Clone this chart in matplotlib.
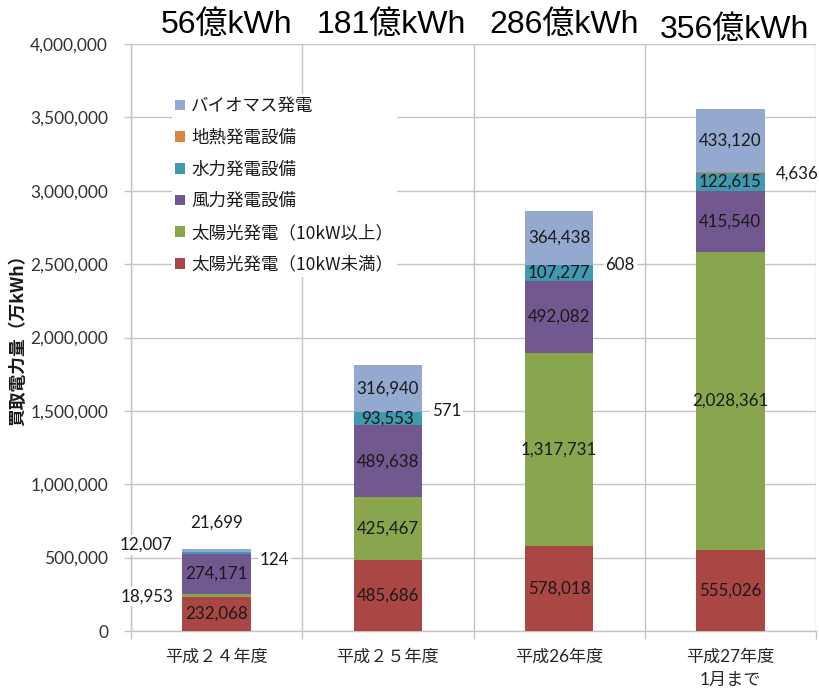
import matplotlib
matplotlib.use("Agg")
import matplotlib.pyplot as plt
import numpy as np
from matplotlib.ticker import FuncFormatter, FixedLocator

plt.rcParams['font.family'] = ['Lato', 'Noto Sans CJK JP', 'DejaVu Sans']

categories = ["平成２４年度", "平成２５年度", "平成26年度", "平成27年度\n1月まで"]
totals_text = ["56億kWh", "181億kWh", "286億kWh", "356億kWh"]
series_names = ["太陽光発電（10kW未満）", "太陽光発電（10kW以上）", "風力発電設備",
                "水力発電設備", "地熱発電設備", "バイオマス発電"]
solar_small = [232068, 485686, 578018, 555026]
solar_large = [18953, 425467, 1317731, 2028361]
wind = [274171, 489638, 492082, 415540]
hydro = [12007, 93553, 107277, 122615]
geothermal = [124, 571, 608, 4636]
biomass = [21699, 316940, 364438, 433120]
series_values = [solar_small, solar_large, wind, hydro, geothermal, biomass]
colors = ["#AA4643", "#89A54E", "#71588F", "#4198AF", "#DB843D", "#93A9CF"]

# labels drawn outside the bar: (series index, category index) -> pixel offsets
outside = {
    (1, 0): (-70, -1),
    (3, 0): (-71, 8),
    (4, 0): (58, -8),
    (5, 0): (0, 28),
    (4, 1): (59, 1),
    (4, 2): (61, 0),
    (4, 3): (67, -1),
}

W, H = 819, 689
fig = plt.figure(figsize=(W / 100, H / 100), dpi=100)
ax = fig.add_axes([131 / W, 1 - 631 / H, (816 - 131) / W, (631 - 44) / H])

x = np.arange(len(categories))
grid_c = "#c4c4c4"
bottom = np.zeros(len(categories))
handles = []
for si, (name, vals, col) in enumerate(zip(series_names, series_values, colors)):
    vals = np.array(vals, dtype=float)
    b = ax.bar(x, vals, 0.4, bottom=bottom, color=col, label=name, zorder=3, linewidth=0)
    handles.append(b)
    for ci in range(len(categories)):
        mid = bottom[ci] + vals[ci] / 2
        txt = f"{int(vals[ci]):,}"
        if (si, ci) in outside:
            dx, dy = outside[(si, ci)]
            ax.annotate(txt, (x[ci], mid), xytext=(dx, dy), textcoords='offset pixels',
                        ha='center', va='center', fontsize=12.2, color='#1a1a1a', zorder=5,
                        bbox=dict(boxstyle='square,pad=0.1', fc='white', ec='none'))
        elif si != 4:
            ax.text(x[ci], mid, txt, ha='center', va='center', fontsize=12.2,
                    color='#1a1a1a', zorder=5)
    bottom = bottom + vals

ax.set_xlim(-0.5, 3.5)
ax.set_ylim(0, 4000000)
ax.set_yticks(np.arange(0, 4000001, 500000))
ax.yaxis.set_major_formatter(FuncFormatter(lambda v, p: f"{int(v):,}"))
ax.set_xticks(x)
ax.set_xticklabels(categories, fontsize=12.3, color='#262626', linespacing=1.55)
ax.xaxis.set_minor_locator(FixedLocator([-0.5, 0.5, 1.5, 2.5, 3.5]))
ax.tick_params(axis='x', which='major', length=0, pad=13)
ax.tick_params(axis='x', which='minor', length=6, color=grid_c, width=1)
ax.tick_params(axis='y', length=5, color=grid_c, width=1, pad=11.5, labelsize=12.5,
               labelcolor='#333333')
ax.grid(axis='y', which='major', color=grid_c, linewidth=1, zorder=0)
ax.grid(axis='x', which='minor', color=grid_c, linewidth=1, zorder=0)
for s in ['top', 'right']:
    ax.spines[s].set_visible(False)
for s in ['left', 'bottom']:
    ax.spines[s].set_color(grid_c)
    ax.spines[s].set_linewidth(1)

leg = ax.legend(handles[::-1], series_names[::-1], loc='upper left',
                bbox_to_anchor=(163 / W, 1 - 85 / H), bbox_transform=fig.transFigure,
                frameon=True, fancybox=False, framealpha=1,
                edgecolor='none', facecolor='white', handlelength=0.55, handleheight=0.55,
                handletextpad=0.35, labelspacing=0.78, borderpad=0.2,
                prop={'family': ['Noto Sans CJK JP'], 'size': 12.6})
leg.set_zorder(4)
for t in leg.get_texts():
    t.set_color('#1a1a1a')

title_x = [227, 391, 564, 734]
title_y = [25, 25, 25, 30]
for tx, ty, t in zip(title_x, title_y, totals_text):
    fig.text(tx / W, 1 - ty / H, t, ha='center', va='center', fontsize=23,
             family=['Liberation Sans', 'Noto Sans CJK JP'], color='black')

fig.text(18 / W, 1 - 336 / H, "買取電力量（万kWh）", rotation=90, ha='center', va='center',
         fontsize=12.8, fontweight='bold', family=['Noto Sans CJK JP'], color='#1a1a1a')

fig.savefig("out.png", dpi=100)
